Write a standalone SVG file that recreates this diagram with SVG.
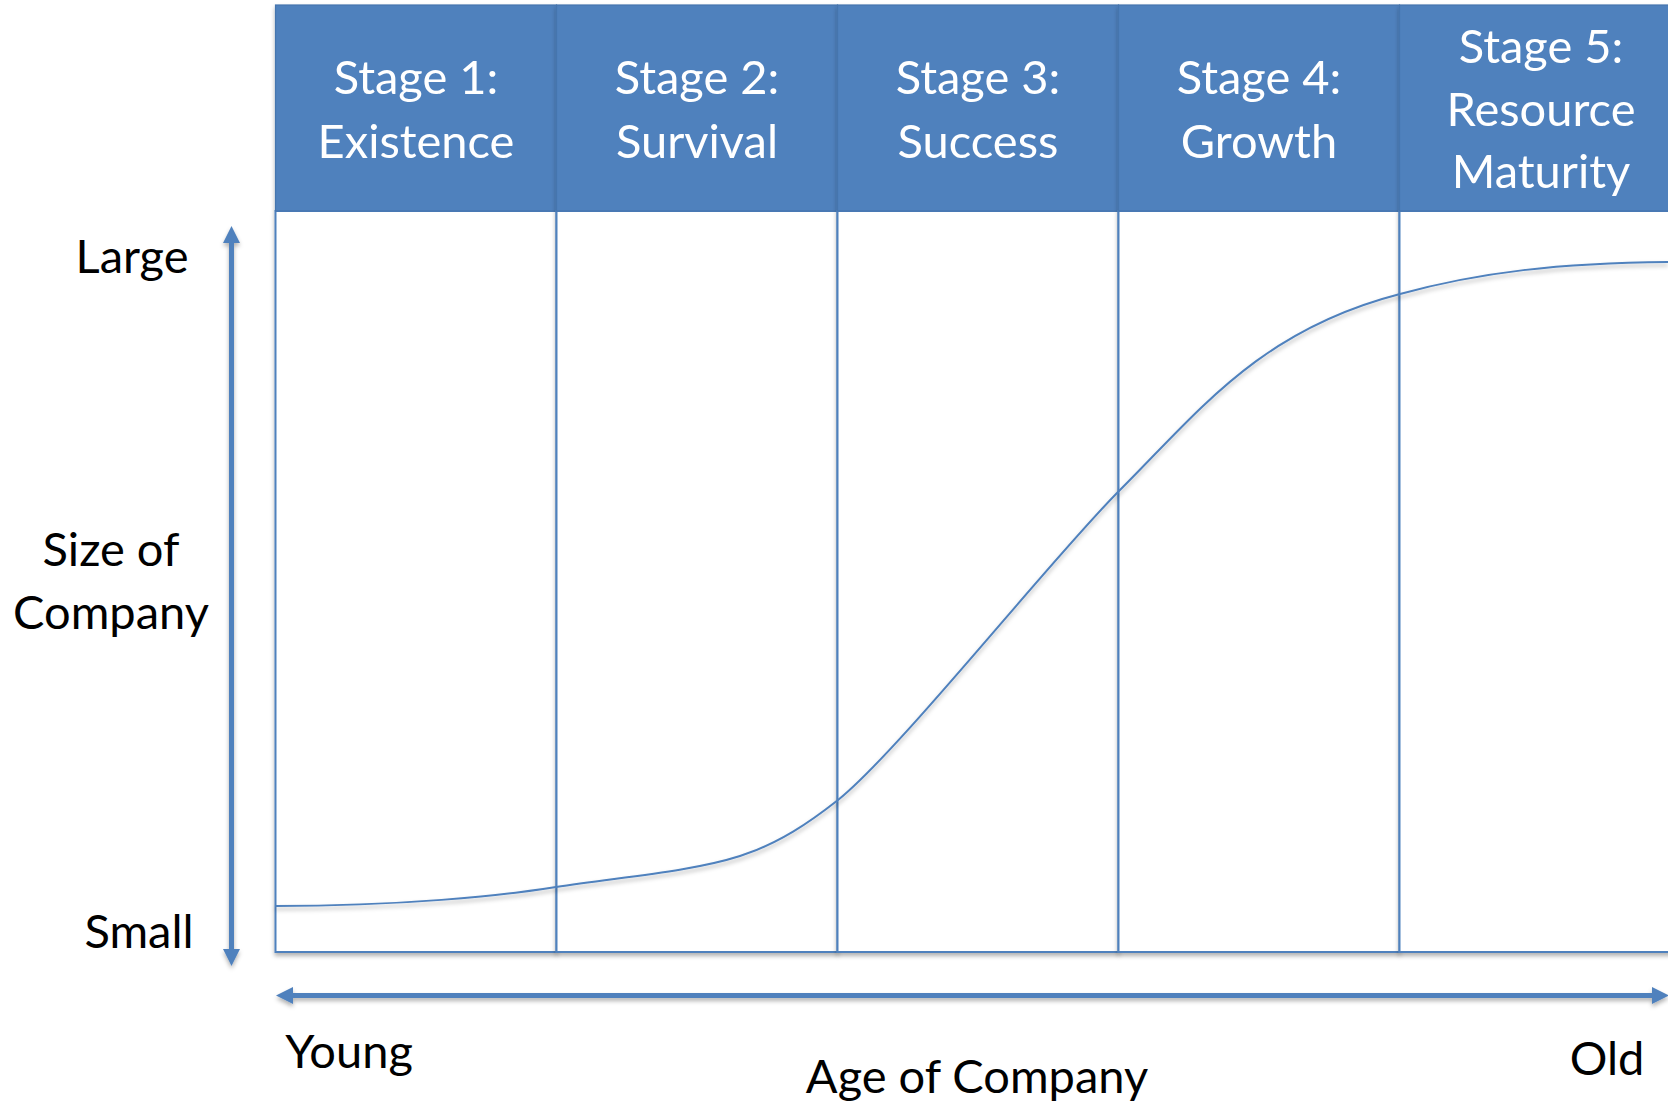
<svg xmlns="http://www.w3.org/2000/svg" width="1668" height="1103" viewBox="0 0 1668 1103">
  <style>
    .hdr { fill: #4F81BD; stroke: #4575AE; stroke-width: 1.2; }
    .body { fill: #FFFFFF; stroke: #4F81BD; stroke-width: 2; }
    .htxt { font-family: Lato, "Liberation Sans", sans-serif; font-size: 47px; fill: #FFFFFF; text-anchor: middle; }
    .lbl { font-family: Lato, "Liberation Sans", sans-serif; font-size: 47px; fill: #000000; text-anchor: middle; }
    .axis { stroke: #4F81BD; stroke-width: 5; fill: none; }
    .curve { stroke: #4F81BD; stroke-width: 2; fill: none; }
  </style>
  <defs>
    <filter id="shadow" x="-5%" y="-5%" width="110%" height="115%">
      <feDropShadow dx="0" dy="3" stdDeviation="2" flood-color="#000000" flood-opacity="0.3"/>
    </filter>
    <marker id="head" viewBox="0 0 17 17" refX="0" refY="8.5" markerWidth="17" markerHeight="17" markerUnits="userSpaceOnUse" orient="auto-start-reverse">
      <path d="M0,0 L17,8.5 L0,17 Z" fill="#4F81BD"/>
    </marker>
  </defs>

  <rect width="1668" height="1103" fill="#FFFFFF"/>

  <!-- Stage columns: header cell + body -->
  <g id="stage1" filter="url(#shadow)">
    <rect class="body" x="275.5" y="211" width="281" height="741"/>
    <rect class="hdr" x="275.5" y="5" width="281" height="206"/>
    <text class="htxt" x="416" y="94">Stage 1:</text>
    <text class="htxt" x="416" y="158">Existence</text>
  </g>
  <g id="stage2" filter="url(#shadow)">
    <rect class="body" x="556.5" y="211" width="281" height="741"/>
    <rect class="hdr" x="556.5" y="5" width="281" height="206"/>
    <text class="htxt" x="697" y="94">Stage 2:</text>
    <text class="htxt" x="697" y="158">Survival</text>
  </g>
  <g id="stage3" filter="url(#shadow)">
    <rect class="body" x="837.5" y="211" width="281" height="741"/>
    <rect class="hdr" x="837.5" y="5" width="281" height="206"/>
    <text class="htxt" x="978" y="94">Stage 3:</text>
    <text class="htxt" x="978" y="158">Success</text>
  </g>
  <g id="stage4" filter="url(#shadow)">
    <rect class="body" x="1118.5" y="211" width="281" height="741"/>
    <rect class="hdr" x="1118.5" y="5" width="281" height="206"/>
    <text class="htxt" x="1259" y="94">Stage 4:</text>
    <text class="htxt" x="1259" y="158">Growth</text>
  </g>
  <g id="stage5" filter="url(#shadow)">
    <rect class="body" x="1399.5" y="211" width="281" height="741"/>
    <rect class="hdr" x="1399.5" y="5" width="281" height="206"/>
    <text class="htxt" x="1541" y="63">Stage 5:</text>
    <text class="htxt" x="1541" y="126">Resource</text>
    <text class="htxt" x="1541" y="188">Maturity</text>
  </g>

  <!-- Axis labels -->
  <g id="labels">
    <text class="lbl" x="132" y="273">Large</text>
    <text class="lbl" x="111" y="566">Size of</text>
    <text class="lbl" x="111" y="629">Company</text>
    <text class="lbl" x="139" y="948">Small</text>
    <text class="lbl" x="349" y="1068">Young</text>
    <text class="lbl" x="977" y="1093">Age of Company</text>
    <text class="lbl" x="1607" y="1075">Old</text>
  </g>

  <!-- Axes and growth curve -->
  <g id="connectors" filter="url(#shadow)">
    <line class="axis" x1="231.5" y1="243" x2="231.5" y2="949" marker-start="url(#head)" marker-end="url(#head)"/>
    <line class="axis" x1="293" y1="995.5" x2="1652" y2="995.5" marker-start="url(#head)" marker-end="url(#head)"/>
    <path class="curve" d="M275.5,906 C400,906 500,896 556,887 C620,877 690,872 740,856 C780,843 810,822 838,800 C900,750 1050,560 1119,491 C1200,410 1260,330 1400,294 C1480,272 1560,263 1668,262"/>
  </g>
</svg>
